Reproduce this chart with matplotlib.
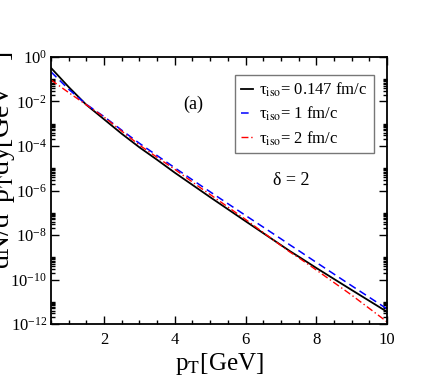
import numpy as np
import matplotlib
matplotlib.use("Agg")
import matplotlib.pyplot as plt
from matplotlib.ticker import FixedLocator, MultipleLocator, LogFormatterSciNotation, NullFormatter

plt.rcParams['font.family'] = ['Liberation Serif', 'DejaVu Serif']
plt.rcParams['mathtext.fontset'] = 'stix'

pt = [0.5, 1.0, 1.5, 2.0, 2.5, 3.0, 3.5, 4.0, 4.71, 5.0, 6.0, 7.0, 7.25, 7.53, 8.0, 9.0, 10.0]
log_black = [-0.49, -1.35, -2.15, -2.80, -3.45, -4.06, -4.62, -5.20, -5.98, -6.30, -7.38, -8.45, -8.72, -9.00, -9.48, -10.47, -11.45]
log_blue = [-0.67, -1.45, -2.13, -2.68, -3.29, -3.88, -4.43, -4.98, -5.75, -6.06, -7.12, -8.17, -8.44, -8.73, -9.23, -10.28, -11.32]
log_red = [-1.03, -1.60, -2.15, -2.70, -3.33, -3.96, -4.51, -5.05, -5.86, -6.18, -7.30, -8.47, -8.76, -9.05, -9.57, -10.70, -11.90]

labels = ['τ$_{\\rm iso}$= 0.147 fm/c', 'τ$_{\\rm iso}$= 1 fm/c', 'τ$_{\\rm iso}$= 2 fm/c']
yticks_major = [1e0, 1e-2, 1e-4, 1e-6, 1e-8, 1e-10, 1e-12]

fig = plt.figure(figsize=(4.36, 3.82), dpi=100)
ax = fig.add_axes([0.117, 0.1518, 0.7706, 0.699])

ax.plot(pt, 10.0 ** np.array(log_black), color='black', lw=1.3, ls='-', label=labels[0])
ax.plot(pt, 10.0 ** np.array(log_blue), color='#0000ff', lw=1.1, ls=(0, (5, 3)), label=labels[1])
ax.plot(pt, 10.0 ** np.array(log_red), color='#ff0000', lw=1.0, ls=(0, (5, 2, 1, 2)), label=labels[2])

ax.set_yscale('log')
ax.set_xlim(0.5, 10)
ax.set_ylim(1e-12, 1e0)
ax.yaxis.set_major_locator(FixedLocator(yticks_major))
minor = []
for e in range(-12, 0, 2):
    for k in range(2, 11):
        minor.append(k * 10.0 ** e)
ax.yaxis.set_minor_locator(FixedLocator(minor))
ax.yaxis.set_major_formatter(LogFormatterSciNotation())
ax.yaxis.set_minor_formatter(NullFormatter())
ax.xaxis.set_major_locator(MultipleLocator(2))
ax.xaxis.set_minor_locator(MultipleLocator(0.5))

ax.tick_params(which='both', direction='in', top=True, right=True, labelsize=12, width=1.0)
ax.tick_params(which='major', length=6)
ax.tick_params(which='minor', length=3)
ax.tick_params(axis='x', pad=6)
ax.tick_params(axis='y', pad=3)
for s in ax.spines.values():
    s.set_linewidth(1.3)

ax.set_xlabel('p$_{\\rm T}$[GeV]', fontsize=18, labelpad=2)
fig.text(0.004, 0.58, 'dN/d$^2$p$_{\\rm T}$dy[GeV$^{-2}$]', rotation=90, fontsize=20,
         ha='center', va='center')

ax.text(0.423, 0.824, '(a)', transform=ax.transAxes, fontsize=13, ha='center', va='center')
ax.text(0.714, 0.536, 'δ = 2', transform=ax.transAxes, fontsize=13, ha='center', va='center')

leg = ax.legend(loc='upper left', bbox_to_anchor=(0.548, 0.933), fontsize=12, frameon=True,
                fancybox=False, edgecolor='#555555', handlelength=0.7, handletextpad=0.4,
                borderpad=0.35, labelspacing=0.35, borderaxespad=0)
leg.get_frame().set_linewidth(1.0)

fig.savefig('out.png', dpi=100)
